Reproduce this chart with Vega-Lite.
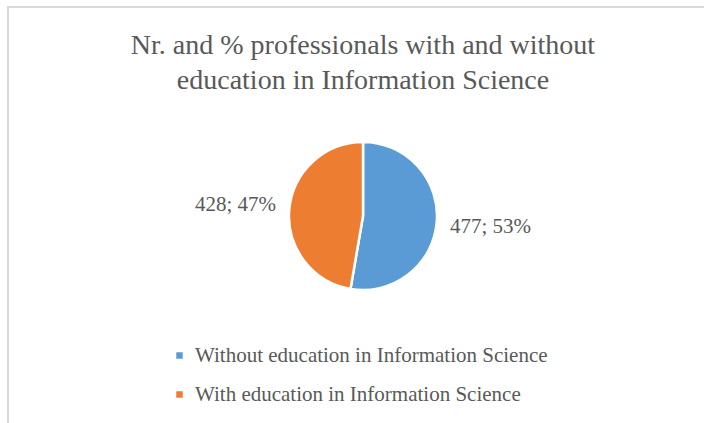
{
  "$schema": "https://vega.github.io/schema/vega-lite/v6.json",
  "autosize": {"type": "none"},
  "padding": {"left": 8, "top": 7, "right": 0, "bottom": 0},
  "width": 710,
  "height": 418,
  "background": "white",
  "view": {"stroke": "#d9d9d9", "strokeWidth": 2, "fill": "white"},
  "config": {
    "font": "Times New Roman, Liberation Serif, serif"
  },
  "title": {
    "text": ["Nr. and % professionals with and without", "education in Information Science"],
    "anchor": "middle",
    "orient": "top",
    "offset": -88,
    "font": "Times New Roman, Liberation Serif, serif",
    "fontSize": 28,
    "fontWeight": "normal",
    "color": "#595959",
    "lineHeight": 35
  },
  "data": {
    "values": [
      {"category": "Without education in Information Science", "count": 477, "label": "477; 53%", "idx": 1},
      {"category": "With education in Information Science", "count": 428, "label": "428; 47%", "idx": 2}
    ]
  },
  "encoding": {
    "theta": {"field": "count", "type": "quantitative", "stack": true},
    "order": {"field": "idx", "type": "quantitative"}
  },
  "layer": [
    {
      "mark": {"type": "arc", "outerRadius": 74, "stroke": "white", "strokeWidth": 2.5},
      "encoding": {
        "color": {
          "field": "category",
          "type": "nominal",
          "scale": {
            "domain": ["Without education in Information Science", "With education in Information Science"],
            "range": ["#5b9bd5", "#ed7d31"]
          },
          "legend": {
            "title": null,
            "orient": "none",
            "legendX": 161,
            "legendY": 338,
            "direction": "vertical",
            "symbolType": "square",
            "symbolSize": 42,
            "symbolStrokeWidth": 0,
            "labelFont": "Times New Roman, Liberation Serif, serif",
            "labelFontSize": 21,
            "labelColor": "#595959",
            "labelOffset": 5,
            "rowPadding": 17,
            "labelLimit": 500
          }
        }
      }
    },
    {
      "mark": {"type": "text", "radius": 128, "font": "Times New Roman, Liberation Serif, serif", "fontSize": 21, "color": "#595959", "align": "center", "baseline": "middle"},
      "encoding": {
        "text": {"field": "label", "type": "nominal"}
      }
    }
  ]
}
